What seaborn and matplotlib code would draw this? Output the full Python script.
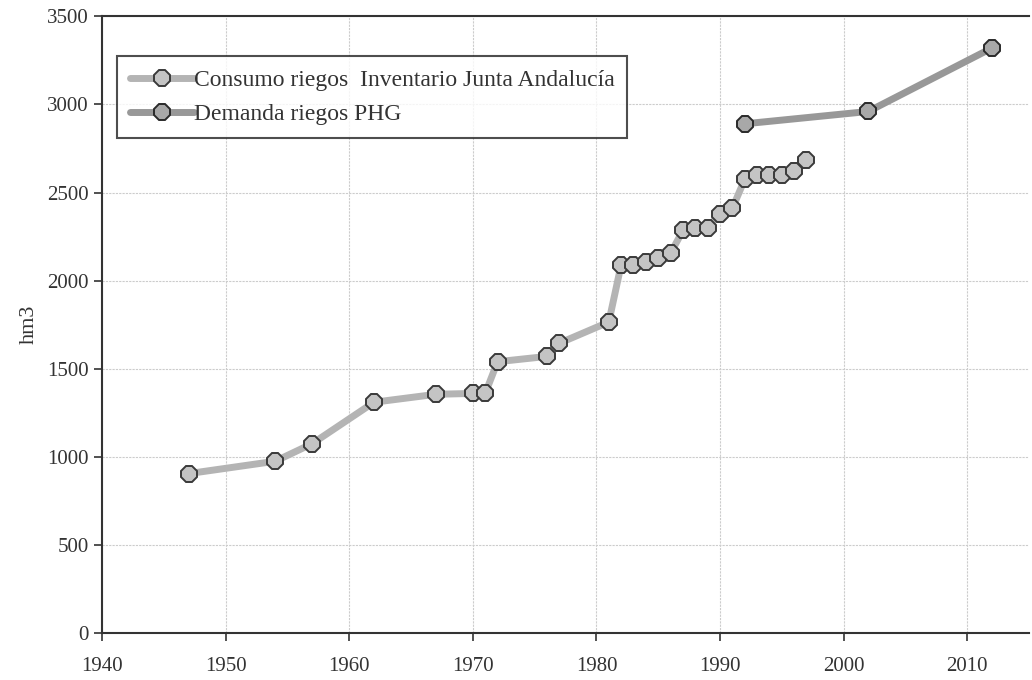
import pandas as pd
import numpy as np
import seaborn as sns
import matplotlib.pyplot as plt

# data
years_inv = [1947, 1954, 1957, 1962, 1967, 1970, 1971, 1972, 1976, 1977,
             1981, 1982, 1983, 1984, 1985, 1986, 1987, 1988, 1989, 1990,
             1991, 1992, 1993, 1994, 1995, 1996, 1997]
consumo_inv = [905, 975, 1075, 1310, 1355, 1360, 1360, 1540, 1570, 1645,
               1765, 2090, 2090, 2105, 2130, 2155, 2285, 2300, 2300, 2380,
               2410, 2575, 2600, 2600, 2600, 2620, 2685]
years_phg = [1992, 2002, 2012]
demanda_phg = [2890, 2960, 3320]

label_inv = 'Consumo riegos  Inventario Junta Andalucía'
label_phg = 'Demanda riegos PHG'

df_inv = pd.DataFrame({'year': years_inv, 'hm3': consumo_inv})
df_phg = pd.DataFrame({'year': years_phg, 'hm3': demanda_phg})

sns.set_style('white')
plt.rcParams['font.family'] = ['Liberation Serif', 'DejaVu Serif']

fig = plt.figure(figsize=(10.32, 6.8), dpi=100)
ax = fig.add_axes([0.099, 0.069, 0.898, 0.907])

sns.lineplot(data=df_inv, x='year', y='hm3', ax=ax, color='#b4b4b4', lw=5,
             marker='8', markersize=13, markerfacecolor='#c4c4c4',
             markeredgecolor='#3a3a3a', markeredgewidth=1.4, label=label_inv)
sns.lineplot(data=df_phg, x='year', y='hm3', ax=ax, color='#989898', lw=5,
             marker='8', markersize=13, markerfacecolor='#a8a8a8',
             markeredgecolor='#2a2a2a', markeredgewidth=1.4, label=label_phg)

ax.set_xlim(1940, 2015)
ax.set_ylim(0, 3500)
ax.set_xticks(np.arange(1940, 2011, 10))
ax.set_yticks(np.arange(0, 3501, 500))
ax.grid(True, color='#cccccc', lw=0.8, ls=(0, (2, 1)))
ax.set_axisbelow(True)

ax.set_xlabel('')
ax.set_ylabel('hm3', fontsize=16, color='#333333', labelpad=6)
ax.tick_params(axis='both', labelsize=15, colors='#333333', direction='out',
               length=6, width=1.2, bottom=True, left=True)
ax.tick_params(axis='x', pad=11)

for side in ['left', 'bottom', 'top', 'right']:
    ax.spines[side].set_color('#333333')
    ax.spines[side].set_linewidth(1.5)
ax.spines['right'].set_visible(False)

leg = ax.legend(loc='upper left', bbox_to_anchor=(0.016, 0.935), fontsize=17,
                frameon=True, fancybox=False, edgecolor='#222222',
                handlelength=2.7, handletextpad=0.0, borderpad=0.55,
                labelspacing=0.55, borderaxespad=0, labelcolor='#333333')
leg.get_frame().set_linewidth(1.5)

plt.savefig('out.png', dpi=100)
